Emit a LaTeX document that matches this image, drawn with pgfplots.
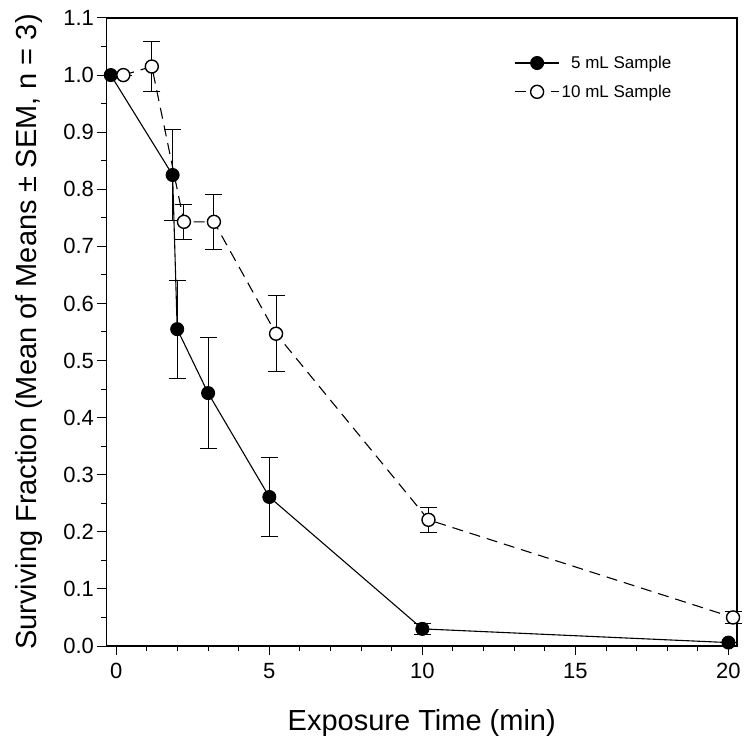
\documentclass[border=0pt]{standalone}
\usepackage{pgfplots}
\pgfplotsset{compat=1.18}
\usepackage{fontspec}
\setmainfont{Liberation Sans}
\begin{document}
\begin{tikzpicture}
\useasboundingbox (-106.5pt,-93pt) rectangle (640.5pt,646pt);
\begin{axis}[
  at={(0pt,0pt)}, anchor=south west,
  scale only axis,
  width=630.5pt, height=628pt,
  xmin=-0.32, xmax=20.28,
  ymin=0, ymax=1.1,
  xtick={0,5,10,15,20},
  minor x tick num=4,
  ytick={0,0.1,...,1.1},
  minor y tick num=1,
  tick align=outside,
  tick pos=left,
  major tick length=9pt,
  minor tick length=5pt,
  every tick/.style={black, line width=1pt},
  axis line style={line width=1.3pt},
  /pgf/number format/assume math mode=true,
  yticklabel style={/pgf/number format/.cd, fixed, fixed zerofill, precision=1},
  xticklabel style={yshift=-5pt},
  tick label style={font=\fontsize{22}{24}\selectfont},
  label style={font=\fontsize{29}{32}\selectfont},
  xlabel style={yshift=-24pt},
  ylabel style={yshift=14pt},
  xlabel={Exposure Time (min)},
  ylabel={Surviving Fraction (Mean of Means ± SEM, n = 3)},
  legend style={draw=none, fill=none, at={(0.904,0.946)}, anchor=north east,
    font=\fontsize{17}{19}\selectfont, row sep=11pt},
  legend cell align=right,
  legend image code/.code={\draw[mark repeat=2,mark phase=2,#1] plot coordinates {(0pt,0pt) (22pt,0pt) (44pt,0pt)};},
  clip=false,
]
\addplot+[black, solid, line width=1.1pt, mark=*, mark size=6.5pt,
  mark options={solid, fill=black, line width=1pt},
  error bars/.cd, y dir=both, y explicit,
  error bar style={line width=1pt, black, solid},
  error mark options={rotate=90, mark size=8.5pt, line width=1pt, black}]
  table[x=x, y=y, y error=e] {
x y e
-0.18 1.000 0
1.84 0.825 0.080
1.99 0.555 0.086
3.00 0.443 0.097
5.00 0.261 0.070
10.0 0.030 0.009
20.0 0.006 0
};
\addlegendentry{5 mL Sample}
\addplot+[black, dashed, dash pattern=on 11pt off 7pt, line width=1.1pt, mark=*, mark size=6.5pt,
  mark options={solid, fill=white, line width=1.4pt},
  error bars/.cd, y dir=both, y explicit,
  error bar style={line width=1pt, black, solid},
  error mark options={rotate=90, mark size=8.5pt, line width=1pt, black}]
  table[x=x, y=y, y error=e] {
x y e
0.23 1.000 0
1.16 1.015 0.044
2.21 0.743 0.031
3.19 0.743 0.048
5.22 0.547 0.067
10.2 0.221 0.022
20.15 0.050 0.010
};
\addlegendentry{10 mL Sample}
\end{axis}
\end{tikzpicture}
\end{document}
